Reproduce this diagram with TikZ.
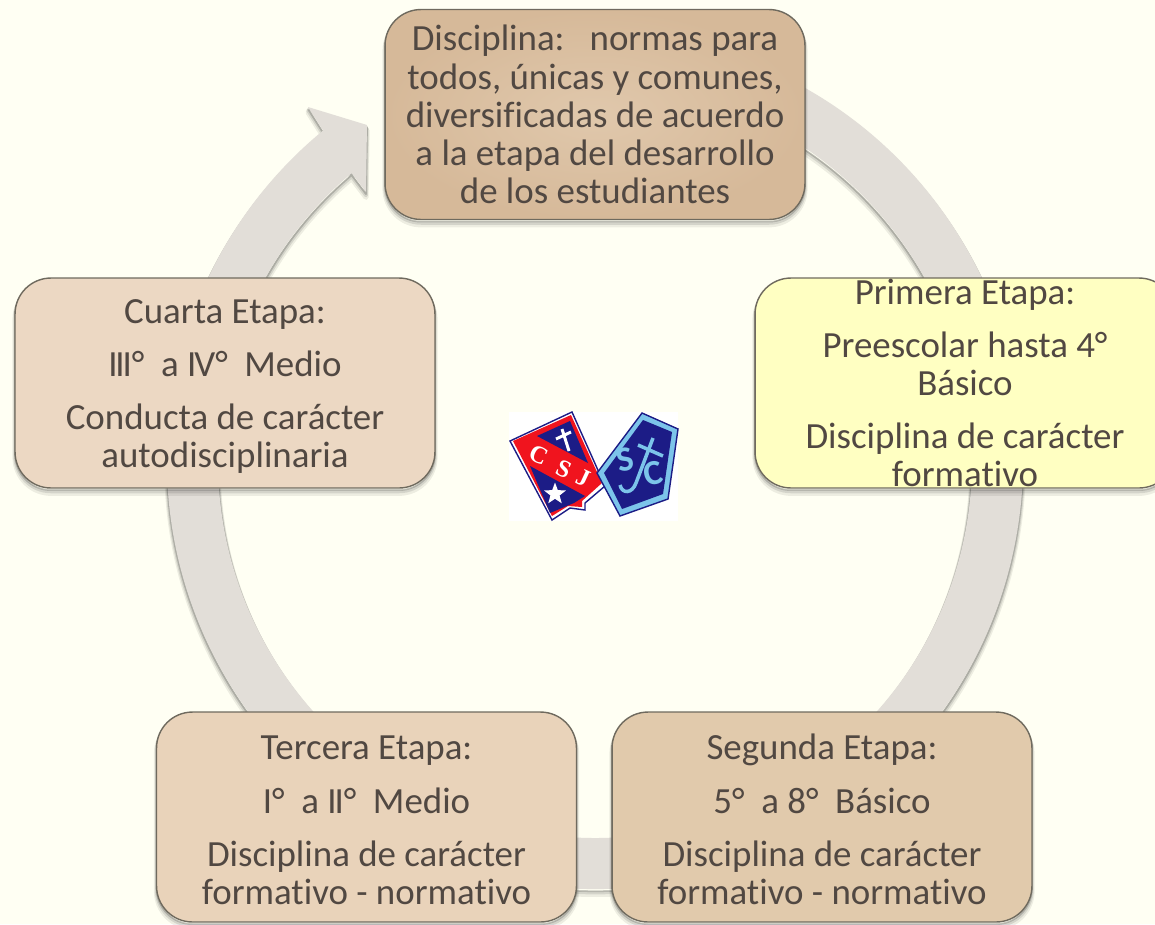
\documentclass[tikz,border=0pt]{standalone}
\usepackage{fontspec}
\setmainfont{Carlito}[Ligatures=NoCommon]
\newfontfamily\crestfont{Liberation Serif}
\usetikzlibrary{calc,shapes.geometric}
\definecolor{paper}{HTML}{FFFFF3}
\definecolor{ringgray}{HTML}{E2DED8}
\definecolor{inkbrown}{HTML}{514842}
\definecolor{edgegray}{HTML}{6F6A5E}
\definecolor{navy}{HTML}{1C1C86}
\definecolor{shieldred}{HTML}{F0141E}
\definecolor{skyblue}{HTML}{7CC4EA}
\definecolor{tanmid}{HTML}{E0C8AC}
\definecolor{tanedge}{HTML}{D6B999}
\definecolor{paleyellow}{HTML}{FFFFC2}
\definecolor{palea}{HTML}{ECD8C3}
\definecolor{paleb}{HTML}{E9D3BA}
\definecolor{palec}{HTML}{E1CAAC}
\newcommand{\fourstrut}{\rule{0pt}{17.5pt}}
\newcommand{\ik}{\kern-1.2pt}
\tikzset{%
  % soft shadow below boxes and ring
  softshadow/.style = {
    preaction={draw=black, draw opacity=.07, line width=3pt, line join=round, transform canvas={yshift=-3pt}},
    preaction={draw=black, draw opacity=.10, line width=2pt, line join=round, transform canvas={yshift=-2pt}},
    preaction={draw=black, draw opacity=.18, line width=1pt, line join=round, transform canvas={yshift=-1.2pt}}},
  % Specifications for style of nodes:
  base/.style = {rectangle, rounded corners=0.72cm, draw=edgegray, line width=0.8pt,
                 minimum width=8.4cm, minimum height=4.2cm, align=center, inner sep=0pt,
                 text=inkbrown, softshadow,
                 font=\fontsize{21}{21.7}\selectfont},
  topbox/.style = {base, inner color=tanmid, outer color=tanedge},
  yellowbox/.style = {base, fill=paleyellow},
  paleboxa/.style = {base, fill=palea},
  paleboxb/.style = {base, fill=paleb},
  paleboxc/.style = {base, fill=palec},
  crestletter/.style = {font=\crestfont\fontsize{14}{14}\selectfont\bfseries, inner sep=0pt, text=white, rotate=-25},
  sealetter/.style = {font=\fontsize{20}{20}\selectfont\bfseries, inner sep=0pt, text=skyblue, rotate=12},
}
\begin{document}
\begin{tikzpicture}[x=0.02cm, y=-0.02cm]
  \clip (0,0) rectangle (1155,924);
  \fill [paper] (0,0) rectangle (1155,924);
  \coordinate (hub) at (595,461);
  % ring with its arrow head
  \fill [ringgray, softshadow] ($(hub)+(-80:428)$) arc [start angle=-80, end angle=230.6, radius=428]
     -- (322,129) -- (308,107) -- (367,125) -- (366,192) -- (350,171)
     -- ($(hub)+(230:377)$) arc [start angle=230, end angle=-80, radius=377] -- cycle;
  % Specification of nodes (position, etc.)
  \node (norms)  [topbox] at (595,114.5) {Disciplina:\ \ \ normas para\\todos, únicas y comunes,\\diversificadas de acuerdo\\a la etapa del desarrollo\\de los estudiantes};
  \node (first)  [yellowbox] at (965,383) {Primera Etapa:\\[8.6pt]Preescolar hasta 4°\\Básico\\[8.6pt]Disciplina de carácter\\formativo};
  \node (second) [paleboxc] at (822,817) {\fourstrut Segunda Etapa:\\[8.6pt]5°\ \ a 8°\ \ Básico\\[8.6pt]Disciplina de carácter\\formativo - normativo};
  \node (third)  [paleboxb] at (366.5,817) {\fourstrut Tercera Etapa:\\[8.6pt]I°\ \ a I\ik I°\ \ Medio\\[8.6pt]Disciplina de carácter\\formativo - normativo};
  \node (fourth) [paleboxa] at (225,383) {\fourstrut Cuarta Etapa:\\[8.6pt]I\ik I\ik I°\ \ a I\ik V°\ \ Medio\\[8.6pt]Conducta de carácter\\autodisciplinaria};
  % crests in the middle
  \fill [white] (509,412) rectangle (678,521);
  \filldraw [fill=white, draw=navy, line width=0.8pt] (510,441) -- (572,412) -- (605,486) -- (585,503) -- (585,510) -- (570,508) -- (552,520) -- cycle;
  \fill [shieldred] (513,441) -- (571,415) -- (602,483) -- (582,501) -- (582,507) -- (568,506) -- (552,516) -- cycle;
  \fill [navy] (537,436) -- (570,421) -- (588,463) -- cycle;
  \fill [navy] (530,466) -- (585,496) -- (574,503) -- (550,513) -- cycle;
  \draw [white, line width=1.7pt] (562,429) -- (569,451) (556,439) -- (571,432);
  \node (letterC) [crestletter] at (539,455) {C};
  \node (letterS) [crestletter] at (564,469) {S};
  \node (letterJ) [crestletter] at (583,478) {J};
  \node (crestar) [star, star points=5, star point ratio=2.4, fill=white, inner sep=0pt, minimum size=0.46cm] at (555,494) {};
  \filldraw [fill=skyblue, draw=navy, line width=0.8pt] (642,413) -- (678,429) -- (668,499) -- (620,516) -- (597,473) -- cycle;
  \fill [navy] (643,420) -- (672,432) -- (663,494) -- (622,509) -- (604,473) -- cycle;
  \draw [skyblue, line width=2pt] (653,438) -- (636,483) .. controls (632,494) and (622,494) .. (620,485);
  \draw [skyblue, line width=2pt] (638,445) -- (663,456);
  \node (letterSb) [sealetter] at (625,460) {S};
  \node (letterCb) [sealetter] at (653,473) {C};
\end{tikzpicture}
\end{document}
